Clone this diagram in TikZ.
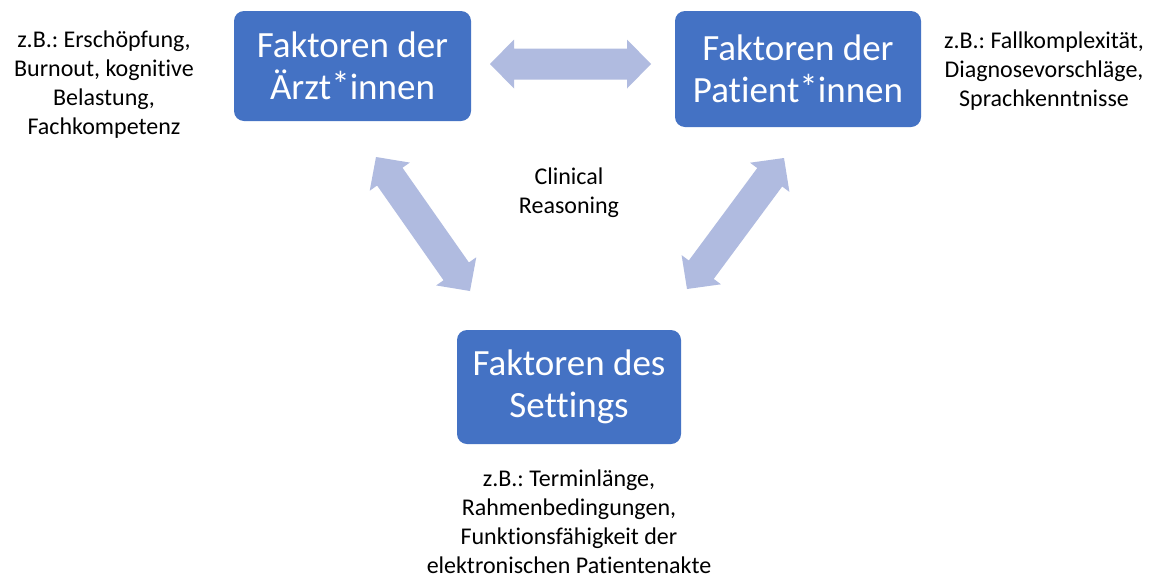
\documentclass[tikz,border=0pt]{standalone}
\usepackage{fontspec}
\setmainfont{Carlito}[Ligatures=NoCommon]
\usetikzlibrary{calc}
\definecolor{boxblue}{HTML}{4472C4}
\definecolor{linkblue}{RGB}{176,187,224}
\frenchspacing

% gender star set a little higher, as in Calibri
\newcommand\gstar{\raisebox{.15ex}{*}}

% broad two-headed arrow from #1 to #2 (tip to tip)
\newcommand\fatlink[2]{%
  \fill[linkblue] (#1)
    -- ($(#1)!24pt!(#2)!24.5pt!90:(#2)$)
    -- ($(#1)!24pt!(#2)!15.5pt!90:(#2)$)
    -- ($(#2)!24pt!(#1)!15.5pt!-90:(#1)$)
    -- ($(#2)!24pt!(#1)!24.5pt!-90:(#1)$)
    -- (#2)
    -- ($(#2)!24pt!(#1)!24.5pt!90:(#1)$)
    -- ($(#2)!24pt!(#1)!15.5pt!90:(#1)$)
    -- ($(#1)!24pt!(#2)!15.5pt!-90:(#2)$)
    -- ($(#1)!24pt!(#2)!24.5pt!-90:(#2)$)
    -- cycle;}

\begin{document}
\begin{tikzpicture}[x=1pt,y=-1pt,
  factor/.style={fill=boxblue, rounded corners=10pt, text=white, align=center,
    font=\fontsize{37}{42}\selectfont, inner sep=0pt},
  note/.style={align=center, text=black, inner sep=0pt,
    font=\fontsize{24}{29}\selectfont}]

\path[fill=white, use as bounding box] (0,0) rectangle (1165,579);

% factor boxes
\node[factor, minimum width=237pt, minimum height=110pt] (arzt) at (352.5,66)
  {Faktoren der\\Ärzt\gstar innen};
\node[factor, minimum width=246pt, minimum height=116pt] (patient) at (798,69)
  {Faktoren der\\Patient\gstar innen};
\node[factor, minimum width=224pt, minimum height=114pt] (setting) at (569,387)
  {Faktoren des\\Settings};

% examples next to each box
\node[note] (arztnote) at (104,85)
  {z.B.: Erschöpfung,\\Burnout, kognitive\\Belastung,\\Fachkompetenz};
\node[note] (patientnote) at (1044,71)
  {z.B.: Fallkomplexität,\\Diagnosevorschläge,\\Sprachkenntnisse};
\node[note] (settingnote) at (569,522)
  {z.B.: Terminlänge,\\Rahmenbedingungen,\\Funktionsfähigkeit der\\elektronischen Patientenakte};
\node[note] (cr) at (569,193) {Clinical\\Reasoning};

% arrow ends between the boxes
\coordinate (hL) at (490,64);
\coordinate (hR) at (651,64);
\coordinate (lT) at (376,157);
\coordinate (lB) at (470,291);
\coordinate (rT) at (784,158);
\coordinate (rB) at (687,289);

\fatlink{hL}{hR}
\fatlink{lT}{lB}
\fatlink{rT}{rB}
\end{tikzpicture}
\end{document}
